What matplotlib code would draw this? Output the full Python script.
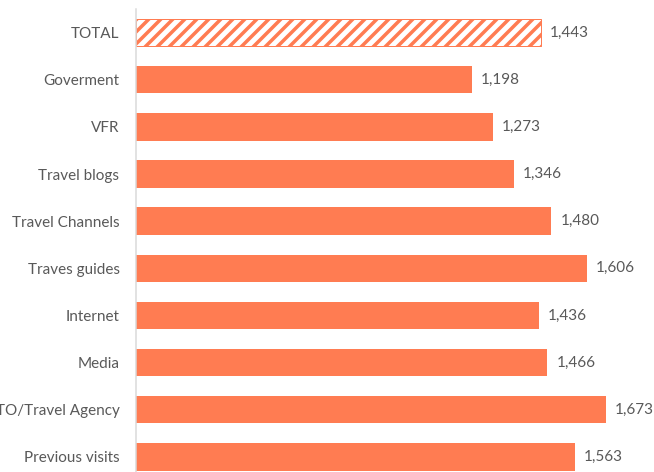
import matplotlib
matplotlib.use("Agg")
import matplotlib.pyplot as plt

# sources of information, top to bottom
categories = ["TOTAL", "Goverment", "VFR", "Travel blogs", "Travel Channels",
              "Traves guides", "Internet", "Media", "TO/Travel Agency",
              "Previous visits"]
values = [1443, 1198, 1273, 1346, 1480, 1606, 1436, 1466, 1673, 1563]

bar_color = "#FF7C52"
text_color = "#595959"

plt.rcParams["font.family"] = ["Lato", "DejaVu Sans"]
plt.rcParams["hatch.linewidth"] = 3.5

W, H = 654, 472
fig = plt.figure(figsize=(W / 72, H / 72), dpi=72)
# axes start at the value axis and run past the bottom/right edges
ax = fig.add_axes([135.5 / W, 0.0, (W - 135.5) / W, (H - 9) / H])

pos = list(range(len(categories)))
for i, (cat, v) in enumerate(zip(categories, values)):
    if cat == "TOTAL":
        ax.barh(i, v, height=0.58, color="white", edgecolor=bar_color,
                hatch="//", linewidth=1.0)
    else:
        ax.barh(i, v, height=0.58, color=bar_color, edgecolor="none")
    ax.text(v + 32, i, f"{v:,}", va="center", ha="left",
            fontsize=15.3, color=text_color)

ax.set_xlim(0, (W - 135.5) / 0.281)
ax.set_ylim(9.32, -0.5)
ax.set_yticks(pos)
ax.set_yticklabels(categories, fontsize=15.3, color=text_color)
ax.tick_params(axis="y", length=0, pad=16)
ax.set_xticks([])
for side in ["top", "right", "bottom"]:
    ax.spines[side].set_visible(False)
ax.spines["left"].set_color("#D9D9D9")
ax.spines["left"].set_linewidth(1.5)

fig.savefig("out.png", dpi=72)
